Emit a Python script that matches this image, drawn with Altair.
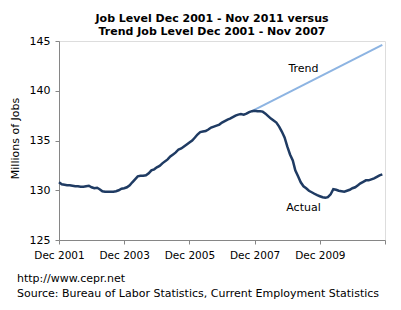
import altair as alt
import pandas as pd

# Monthly total nonfarm employment (millions), Dec 2001 - Nov 2011
actual_values = [
    130.8,
    130.6, 130.55, 130.5, 130.5, 130.45, 130.4, 130.4, 130.35, 130.35, 130.4, 130.45, 130.3,
    130.2, 130.25, 130.1, 129.9, 129.85, 129.85, 129.85, 129.85, 129.9, 130.0, 130.15, 130.2,
    130.3, 130.5, 130.8, 131.1, 131.4, 131.45, 131.45, 131.5, 131.7, 132.0, 132.1, 132.3,
    132.45, 132.7, 132.9, 133.1, 133.4, 133.6, 133.8, 134.1, 134.2, 134.4, 134.6, 134.8,
    135.0, 135.3, 135.6, 135.85, 135.9, 135.95, 136.1, 136.3, 136.4, 136.5, 136.6, 136.8,
    136.95, 137.1, 137.2, 137.35, 137.5, 137.6, 137.65, 137.6, 137.7, 137.85, 137.95, 138.0,
    137.95, 137.95, 137.9, 137.7, 137.45, 137.2, 137.0, 136.8, 136.4, 135.9, 135.3, 134.4,
    133.6, 133.0, 132.0, 131.4, 130.8, 130.4, 130.2, 129.95, 129.8, 129.65, 129.5, 129.4,
    129.3, 129.25, 129.3, 129.6, 130.1, 130.05, 129.95, 129.9, 129.85, 129.95, 130.05, 130.2,
    130.3, 130.5, 130.7, 130.85, 131.0, 131.0, 131.1, 131.2, 131.35, 131.5, 131.6,
]
actual_months = pd.date_range("2001-12-01", periods=len(actual_values), freq="MS").strftime("%Y-%m-%d").tolist()

trend_months = ["2007-11-01", "2011-11-01"]
trend_values = [137.95, 144.6]

label_text = ["Trend", "Actual"]
label_months = ["2009-06-01", "2009-06-01"]
label_values = [142.2, 128.2]

x_tick_years = [2001, 2003, 2005, 2007, 2009, 2011]
y_ticks = [125, 130, 135, 140, 145]

title_lines = ["Job Level Dec 2001 - Nov 2011 versus", "Trend Job Level Dec 2001 - Nov 2007"]
footer_lines = ["http://www.cepr.net", "Source: Bureau of Labor Statistics, Current Employment Statistics"]

FONT = "DejaVu Sans"
AXIS_GREY = "#868686"

actual_df = pd.DataFrame({"date": actual_months, "jobs": actual_values})
trend_df = pd.DataFrame({"date": trend_months, "jobs": trend_values})
label_df = pd.DataFrame({"date": label_months, "jobs": label_values, "text": label_text})

x_scale = alt.Scale(
    type="utc",
    domain=[alt.DateTime(year=2001, month=12, date=1, utc=True),
            alt.DateTime(year=2011, month=12, date=1, utc=True)],
)
y_scale = alt.Scale(domain=[125, 145], nice=False, zero=False)

x_axis = alt.Axis(
    values=[alt.DateTime(year=y, month=12, date=1, utc=True) for y in x_tick_years],
    format="%b %Y",
    labelExpr="datum.label == 'Dec 2011' ? '' : datum.label",
    labelOverlap=False, labelFlush=False,
    title=None, grid=False,
    domainColor=AXIS_GREY, tickColor=AXIS_GREY, tickSize=4,
    labelFont=FONT, labelFontSize=10.5, labelColor="#000", labelPadding=6,
)
y_axis = alt.Axis(
    values=y_ticks, title="Millions of Jobs", grid=False,
    domainColor=AXIS_GREY, tickColor=AXIS_GREY, tickSize=4,
    labelFont=FONT, labelFontSize=11, labelColor="#000", labelPadding=5,
    labelFlush=False,
    titleFont=FONT, titleFontSize=11, titleFontWeight="normal", titleColor="#000",
    titleX=-39, titleY=97,
)

actual_line = alt.Chart(actual_df).mark_line(color="#1F3B63", strokeWidth=2.5).encode(
    x=alt.X("date:T", scale=x_scale, axis=x_axis),
    y=alt.Y("jobs:Q", scale=y_scale, axis=y_axis),
)
trend_line = alt.Chart(trend_df).mark_line(color="#8DB4E2", strokeWidth=2).encode(
    x=alt.X("date:T", scale=x_scale),
    y=alt.Y("jobs:Q", scale=y_scale),
)
labels = alt.Chart(label_df).mark_text(font=FONT, fontSize=11, color="#000").encode(
    x=alt.X("date:T", scale=x_scale),
    y=alt.Y("jobs:Q", scale=y_scale),
    text="text:N",
)
footer1 = alt.Chart(pd.DataFrame({"t": [footer_lines[0]]})).mark_text(
    font=FONT, fontSize=11, color="#000", align="left", baseline="middle"
).encode(x=alt.value(-42), y=alt.value(238), text="t:N")
footer2 = alt.Chart(pd.DataFrame({"t": [footer_lines[1]]})).mark_text(
    font=FONT, fontSize=11, color="#000", align="left", baseline="middle"
).encode(x=alt.value(-42), y=alt.value(253), text="t:N")

chart = alt.layer(trend_line, actual_line, labels, footer1, footer2).properties(
    width=326, height=199,
    autosize=alt.AutoSizeParams(type="none"),
    padding={"left": 51, "top": 33, "right": 8, "bottom": 62},
    title=alt.TitleParams(
        text=title_lines, font=FONT, fontSize=11, fontWeight="bold", color="#000",
        anchor="middle", frame="group", dx=-10, offset=-2, lineHeight=13,
    ),
).configure_view(stroke=None).configure(background="white")

chart.save("out.html", embed_options={"renderer": "svg", "actions": False})
